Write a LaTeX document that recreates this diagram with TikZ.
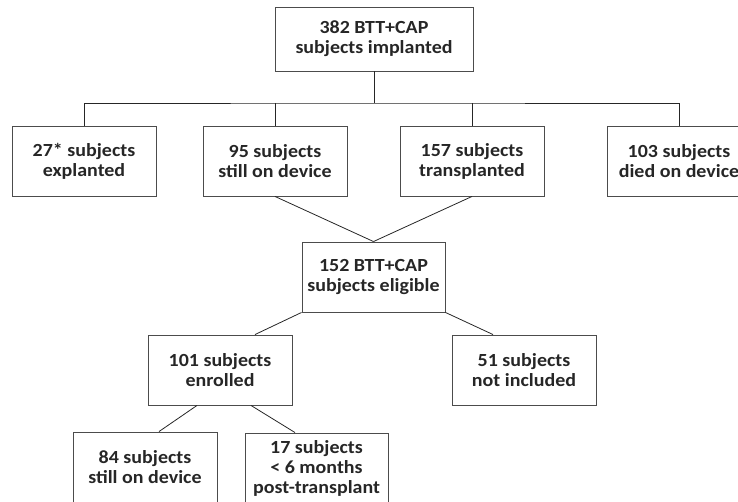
\documentclass[tikz,border=0pt]{standalone}
\usepackage{fontspec}
\setmainfont[FakeStretch=1.08]{Carlito}
\begin{document}
\begin{tikzpicture}[x=1pt,y=-1pt,
  box/.style={draw=black!70, line width=0.9pt, rectangle, align=center,
    minimum width=144pt, minimum height=70pt, inner sep=0pt,
    font=\fontsize{18.5}{20}\selectfont\bfseries, text=black!85},
  link/.style={draw=black!85, line width=0.8pt}]
\useasboundingbox (0,0) rectangle (738,502);
\node[box, minimum width=198pt, minimum height=64pt] (top) at (374,39) {382 BTT+CAP\\subjects implanted};
\node[box] (e) at (84,161) {27* subjects\\explanted};
\node[box] (s) at (275,161) {95 subjects\\still on device};
\node[box] (t) at (472,161) {157 subjects\\transplanted};
\node[box] (d) at (679,161) {103 subjects\\died on device};
\node[box, minimum width=143pt] (el) at (373.5,277) {152 BTT+CAP\\subjects eligible};
\node[box] (en) at (220,370) {101 subjects\\enrolled};
\node[box] (ni) at (524,370) {51 subjects\\not included};
\node[box] (sd) at (145,467) {84 subjects\\still on device};
\node[box, minimum width=143pt] (pt) at (316.5,468) {17 subjects\\< 6 months\\post-transplant};
\coordinate (bus) at (374,103);
\draw[link] (top.south) -- (bus);
\draw[link] (e.north) |- (bus) -| (d.north);
\draw[link] (s.north) -- (s.north |- bus);
\draw[link] (t.north) -- (t.north |- bus);
\draw[link] (s.south) -- (el.north);
\draw[link] (t.south) -- (el.north);
\draw[link] (el.south west) -- ([xshift=35pt]en.north);
\draw[link] (el.south east) -- ([xshift=-31pt]ni.north);
\draw[link] ([xshift=-23pt]en.south) -- ([xshift=14pt]sd.north);
\draw[link] ([xshift=31pt]en.south) -- ([xshift=-21.5pt]pt.north);
\end{tikzpicture}
\end{document}
